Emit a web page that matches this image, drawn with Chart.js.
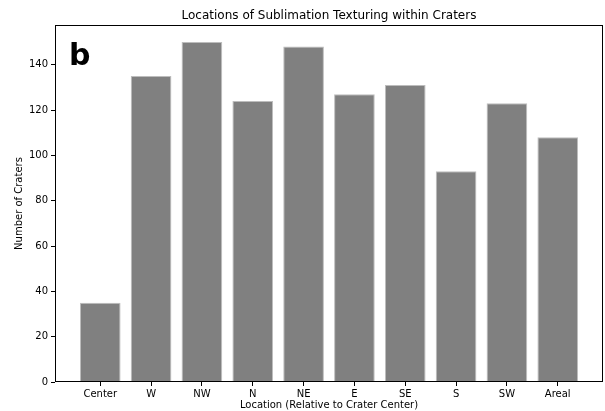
<!DOCTYPE html>
<html>
<head>
<meta charset="utf-8">
<script src="https://cdn.jsdelivr.net/npm/chart.js@4"></script>
<style>
  html, body { margin: 0; padding: 0; background: #fff; }
  #wrap { width: 605px; height: 411px; }
</style>
</head>
<body>
<div id="wrap"><canvas id="grafico" width="605" height="411"></canvas></div>
<script>
// dados
const locais = ["Center", "W", "NW", "N", "NE", "E", "SE", "S", "SW", "Areal"];
const crateras = [35, 135, 150, 124, 148, 127, 131, 93, 123, 108];
const ticksY = [0, 20, 40, 60, 80, 100, 120, 140];

const fonte = "'DejaVu Sans', sans-serif";

// titulo, letra do painel e moldura
const extras = {
    id: "extras",
    afterDatasetsDraw(chart) {
        const { ctx, chartArea: a } = chart;
        ctx.save();
        ctx.strokeStyle = "#000";
        ctx.lineWidth = 1;
        ctx.strokeRect(a.left + 0.5, a.top + 0.5, a.right - a.left - 1, a.bottom - a.top - 1);
        ctx.fillStyle = "#000";
        ctx.font = "12px " + fonte;
        ctx.textAlign = "center";
        ctx.textBaseline = "alphabetic";
        ctx.fillText("Locations of Sublimation Texturing within Craters", (a.left + a.right) / 2, 19);
        ctx.font = "bold 30px " + fonte;
        ctx.textAlign = "left";
        ctx.fillText("b", 69, 65);
        ctx.restore();
    }
};

new Chart(document.getElementById("grafico"), {
    type: "bar",
    data: {
        datasets: [{
            data: crateras.map((v, i) => ({ x: i, y: v })),
            backgroundColor: "#808080",
            borderColor: "#bdbdbd",
            borderWidth: 1,
            barPercentage: 0.8,
            categoryPercentage: 1
        }]
    },
    options: {
        responsive: false,
        animation: false,
        layout: { padding: { top: 25, right: 2, left: 0, bottom: 0 } },
        plugins: { legend: { display: false }, tooltip: { enabled: false } },
        scales: {
            x: {
                type: "linear",
                min: -0.89,
                max: 9.89,
                offset: false,
                afterBuildTicks: (axis) => { axis.ticks = locais.map((_, i) => ({ value: i })); },
                afterFit: (axis) => { axis.height = 29; },
                ticks: {
                    callback: (v) => locais[v],
                    color: "#000",
                    font: { family: fonte, size: 10 },
                    padding: 2,
                    maxRotation: 0,
                    autoSkip: false
                },
                grid: { display: true, offset: false, drawOnChartArea: false, color: "#000", tickLength: 4 },
                border: { display: false },
                title: {
                    display: true,
                    text: "Location (Relative to Crater Center)",
                    color: "#000",
                    font: { family: fonte, size: 10 },
                    padding: { top: 0, bottom: 0 }
                }
            },
            y: {
                min: 0,
                max: 157.5,
                afterBuildTicks: (axis) => { axis.ticks = ticksY.map(v => ({ value: v })); },
                afterFit: (axis) => { axis.width = 55; },
                ticks: {
                    color: "#000",
                    font: { family: fonte, size: 10 },
                    padding: 3
                },
                grid: { display: true, drawOnChartArea: false, color: "#000", tickLength: 4 },
                border: { display: false },
                title: {
                    display: true,
                    text: "Number of Craters",
                    color: "#000",
                    font: { family: fonte, size: 10 },
                    padding: { top: 13, bottom: 0 }
                }
            }
        }
    },
    plugins: [extras]
});
</script>
</body>
</html>
